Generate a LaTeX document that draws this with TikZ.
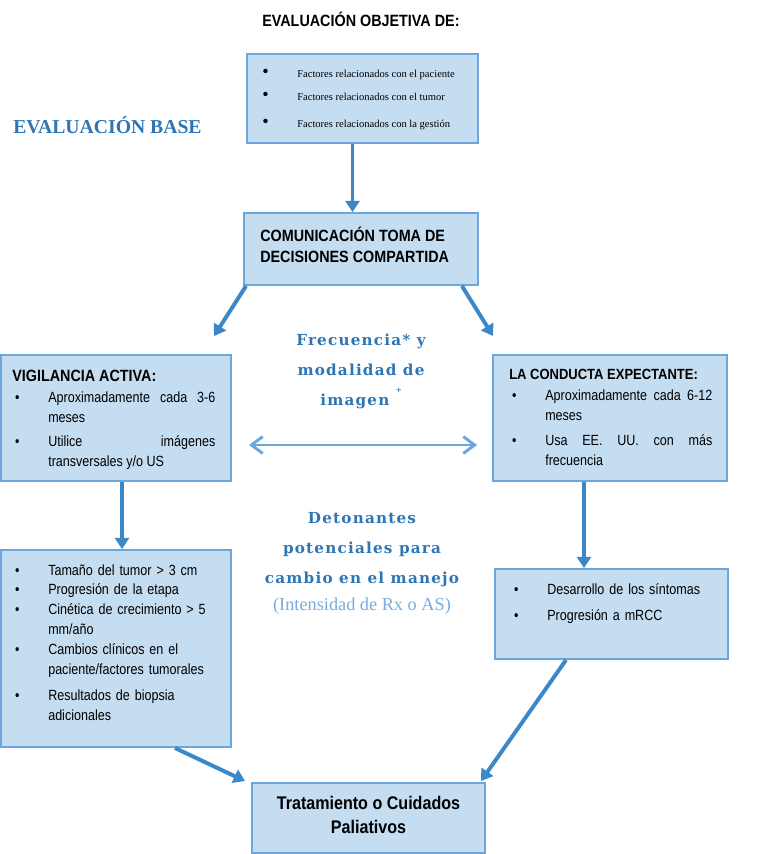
\documentclass[tikz,border=0pt]{standalone}
\usepackage{fontspec}
\setmainfont{Liberation Serif}
\newfontfamily\arialn[FakeStretch=0.88]{Liberation Sans}
\newfontfamily\arialb[FakeStretch=0.85]{Liberation Sans}
\newfontfamily\slab[LetterSpace=8]{DejaVu Serif}
\usetikzlibrary{arrows.meta,calc}

\definecolor{boxfill}{RGB}{197,221,240}
\definecolor{boxline}{RGB}{108,166,218}
\definecolor{arrowblue}{RGB}{58,136,200}
\definecolor{lightarrow}{RGB}{108,166,218}
\definecolor{titleblue}{RGB}{46,117,182}
\definecolor{paleblue}{RGB}{120,172,222}

\hyphenpenalty=10000
\hbadness=10000

\newcommand{\bitem}[1]{\noindent\hangindent=25.6pt\hangafter=1\makebox[25.6pt][l]{\hspace{2pt}\textbullet}#1\par}

\tikzset{
	box/.style={draw=boxline, fill=boxfill, line width=1.4pt, inner sep=0pt},
	arr/.style={draw=arrowblue, line width=2.8pt, -{Triangle[length=8pt,width=10pt]}},
	dbl/.style={draw=lightarrow, line width=2.1pt, {Straight Barb[length=8pt,width=12pt]}-{Straight Barb[length=8pt,width=12pt]}},
	body/.style={font=\arialb\fontsize{10.5}{14.2}\selectfont, anchor=base west, inner sep=0pt, text width=144.4pt},
	head/.style={font=\arialn\bfseries\fontsize{11.6}{15.6}\selectfont, anchor=base west, inner sep=0pt},
	slabtxt/.style={font=\slab\bfseries\fontsize{10.8}{21}\selectfont, text=titleblue, align=center, anchor=base, inner sep=0pt},
}

\begin{document}
\begin{tikzpicture}[x=0.025cm, y=-0.025cm]
	\useasboundingbox (0,0) rectangle (758,854);

	\node[box, minimum width=164.3pt, minimum height=63.3pt] (top) at (362.5,98.5) {};
	\node[box, minimum width=166.4pt, minimum height=51.2pt] (comm) at (361,249) {};
	\node[box, minimum width=163.6pt, minimum height=89.6pt] (vig) at (116,418) {};
	\node[box, minimum width=166.4pt, minimum height=89.6pt] (cond) at (610,418) {};
	\node[box, minimum width=163.6pt, minimum height=140.1pt] (gat) at (116,648.5) {};
	\node[box, minimum width=165.7pt, minimum height=64pt] (sint) at (611.5,614) {};
	\node[box, minimum width=165.7pt, minimum height=49.8pt] (trat) at (368.5,818) {};

	\node[head] (titulo) at (262,27) {EVALUACIÓN OBJETIVA DE:};
	\node[anchor=base west, inner sep=0pt, font=\bfseries\fontsize{14}{16}\selectfont, text=titleblue] (base) at (13,134) {EVALUACIÓN BASE};

	\foreach \i/\y/\txt in {1/77/{Factores relacionados con el paciente},
		2/100/{Factores relacionados con el tumor},
		3/127/{Factores relacionados con la gestión}} {
		\node[anchor=base west, inner sep=0pt, font=\fontsize{13}{14}\selectfont] (bul\i) at (262,\y) {\textbullet};
		\node[anchor=base west, inner sep=0pt, font=\fontsize{7.5}{9}\selectfont] (fac\i) at (297,\y) {\txt};
	}

	\node[head, align=left] (comtxt) at (260,262) {COMUNICACIÓN TOMA DE\\[-1pt]DECISIONES COMPARTIDA};

	\node[body, align=justify] (vigtxt) at (12,381) {{\arialn\bfseries\fontsize{11.6}{14.2}\selectfont VIGILANCIA ACTIVA:\par}\vspace{1.4pt}
		\bitem{Aproximadamente cada 3-6\linebreak meses}\vspace{2.8pt}
		\bitem{Utilice imágenes\linebreak transversales y/o US}};

	\node[body, align=justify] (condtxt) at (509,379) {{\arialn\bfseries\fontsize{10.5}{14.2}\selectfont LA CONDUCTA EXPECTANTE:\par}\vspace{1.4pt}
		\bitem{Aproximadamente cada 6-12\linebreak meses}\vspace{3.5pt}
		\bitem{Usa EE. UU. con más\linebreak frecuencia}};

	\node[body, align=left] (gattxt) at (12,575) {\bitem{Tamaño del tumor > 3 cm}
		\bitem{Progresión de la etapa}
		\bitem{Cinética de crecimiento > 5\newline mm/año}
		\bitem{Cambios clínicos en el\newline paciente/factores tumorales}\vspace{4.3pt}
		\bitem{Resultados de biopsia\newline adicionales}};

	\node[body, align=left] (sintxt) at (511,594) {\bitem{Desarrollo de los síntomas}\vspace{4.3pt}
		\bitem{Progresión a mRCC}};

	\node[head, anchor=base, align=center, font=\arialn\bfseries\fontsize{13}{16.4}\selectfont] (trattxt) at (368.5,833) {Tratamiento o Cuidados\\Paliativos};

	\node[slabtxt] (frec) at (361,405) {Frecuencia* y\\modalidad de\\imagen \raisebox{9pt}{\fontsize{5}{6}\selectfont +}};
	\node[slabtxt] (deton) at (362,583) {Detonantes\\potenciales para\\cambio en el manejo};
	\node[anchor=base, inner sep=0pt, font=\fontsize{13}{15}\selectfont, text=paleblue] (intens) at (362,610) {(Intensidad de Rx o AS)};

	\draw[arr] ($(top.south)+(-10,0)$) coordinate (t1) -- (t1 |- comm.north);
	\draw[arr] ($(comm.south west)+(3,0)$) -- ($(vig.north east)+(-18,-18)$);
	\draw[arr] ($(comm.south east)+(-17,0)$) -- ($(cond.north west)+(1,-18)$);
	\draw[dbl] ($(vig.east)+(17,27)$) -- ($(cond.west)+(-15,27)$);
	\draw[arr] ($(vig.south)+(6,0)$) coordinate (v1) -- (v1 |- gat.north);
	\draw[arr] ($(cond.south)+(-26,0)$) coordinate (c1) -- (c1 |- sint.north);
	\draw[arr] ($(gat.south)+(59,0)$) -- ($(trat.north west)+(-6,-1)$);
	\draw[arr] ($(sint.south)+(-45.5,0)$) -- ($(trat.north east)+(-5,-1)$);
\end{tikzpicture}
\end{document}
